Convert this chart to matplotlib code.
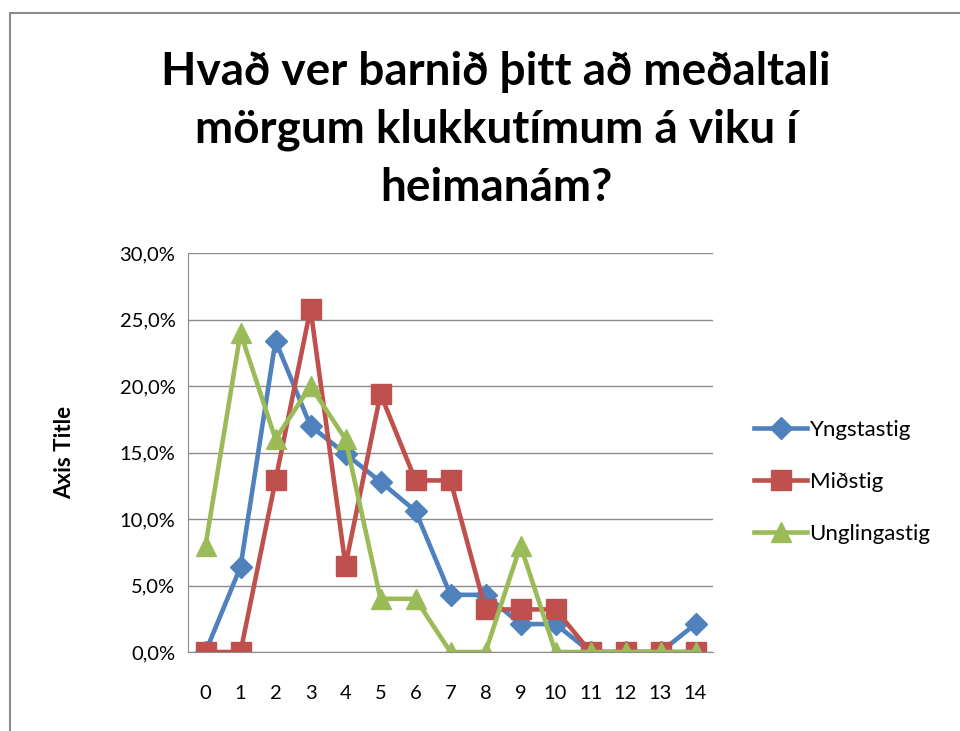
import matplotlib
matplotlib.use('Agg')
import matplotlib.pyplot as plt
from matplotlib.patches import Rectangle
from matplotlib.ticker import FuncFormatter

hours = list(range(15))
yngstastig = [0.0, 6.4, 23.4, 17.0, 14.9, 12.8, 10.6, 4.3, 4.3, 2.1, 2.1, 0.0, 0.0, 0.0, 2.1]
midstig = [0.0, 0.0, 12.9, 25.8, 6.5, 19.4, 12.9, 12.9, 3.2, 3.2, 3.2, 0.0, 0.0, 0.0, 0.0]
unglingastig = [8.0, 24.0, 16.0, 20.0, 16.0, 4.0, 4.0, 0.0, 0.0, 8.0, 0.0, 0.0, 0.0, 0.0, 0.0]
series_names = ['Yngstastig', 'Miðstig', 'Unglingastig']

plt.rcParams['font.family'] = ['Lato', 'DejaVu Sans']

fig = plt.figure(figsize=(9.6, 7.31), dpi=100)
fig.patches.append(Rectangle((10 / 960, -0.1), 1.2, (731 - 13) / 731 + 0.1,
	transform=fig.transFigure, fill=False, edgecolor='#8c8c8c', linewidth=1.5))

ax = fig.add_axes([188 / 960, 79 / 731, 525 / 960, 399 / 731])

ax.plot(hours, yngstastig, color='#4F81BD', linewidth=3.3, marker='D', markersize=11,
	label=series_names[0])
ax.plot(hours, midstig, color='#C0504D', linewidth=3.3, marker='s', markersize=14,
	label=series_names[1])
ax.plot(hours, unglingastig, color='#9BBB59', linewidth=3.3, marker='^', markersize=15,
	label=series_names[2])

ax.set_xlim(-0.5, 14.5)
ax.set_ylim(0, 30)
ax.set_xticks(hours)
ax.set_yticks([0, 5, 10, 15, 20, 25, 30])
ax.yaxis.set_major_formatter(FuncFormatter(lambda v, p: f'{v:.1f}%'.replace('.', ',')))
ax.tick_params(axis='both', length=0, labelsize=14.5, colors='#000000')
ax.tick_params(axis='x', pad=24)
ax.tick_params(axis='y', pad=9)
ax.grid(axis='y', color='#8c8c8c', linewidth=1)
ax.set_axisbelow(True)
for side in ['top', 'right']:
	ax.spines[side].set_visible(False)
for side in ['left', 'bottom']:
	ax.spines[side].set_color('#8c8c8c')
ax.set_ylabel('Axis Title', fontsize=16, fontweight='bold', labelpad=32)

fig.text(496 / 960, 1 - 130 / 731,
	'Hvað ver barnið þitt að meðaltali\nmörgum klukkutímum á viku í\nheimanám?',
	fontsize=33, fontweight='bold', linespacing=1.46, ha='center', va='center')

ax.legend(loc='center left', bbox_to_anchor=(1.04, 0.426), frameon=False, fontsize=16,
	handlelength=2.4, labelspacing=1.45, handletextpad=0.1)

fig.savefig('out.png', dpi=100)
